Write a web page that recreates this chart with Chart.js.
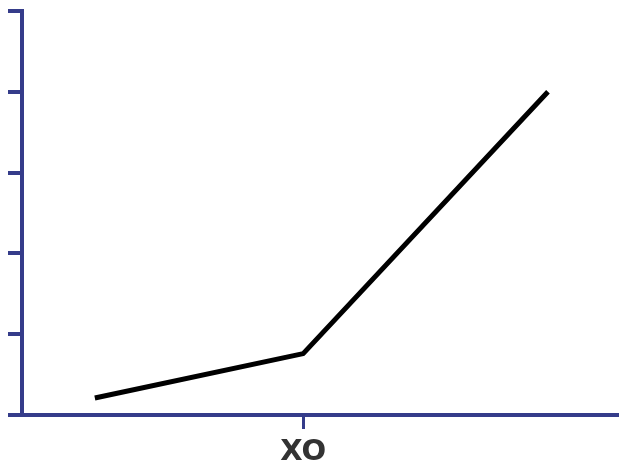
<!DOCTYPE html>
<html>
<head>
<meta charset="utf-8">
<script src="https://cdn.jsdelivr.net/npm/chart.js@4/dist/chart.umd.min.js"></script>
<style>
  html, body { margin: 0; padding: 0; background: #fff; }
  canvas { display: block; }
</style>
</head>
<body>
<canvas id="chart" width="619" height="470"></canvas>
<script>
// data
const xValues = [1.22, 4.71, 8.81];
const yValues = [0.21, 0.76, 4.0];
const xTickValues = [4.71];
const xTickLabels = ['XO'];

const axisColor = '#353c8a';

let points = [];
for (let i = 0; i < xValues.length; i++) {
  points.push({x: xValues[i], y: yValues[i]});
}

let ctx = document.getElementById('chart');
let lineChart = new Chart(ctx, {
  type: 'line',
  data: {
    datasets: [{
      data: points,
      borderColor: '#000',
      borderWidth: 5,
      borderJoinStyle: 'round',
      pointRadius: 0,
      tension: 0,
      fill: false
    }]
  },
  options: {
    responsive: false,
    animation: false,
    layout: { padding: { left: 8, top: 11, right: 0, bottom: -6 } },
    plugins: { legend: { display: false }, tooltip: { enabled: false } },
    scales: {
      x: {
        type: 'linear',
        min: 0,
        max: 10,
        afterBuildTicks: function(scale) {
          scale.ticks = xTickValues.map(v => ({value: v}));
        },
        ticks: {
          autoSkip: false,
          maxRotation: 0,
          padding: 9,
          color: '#333',
          font: { family: 'DejaVu Sans', size: 29, weight: 'bold', lineHeight: 1 },
          callback: function(value, index) { return xTickLabels[index]; }
        },
        grid: { drawOnChartArea: false, color: axisColor, lineWidth: 3, tickLength: 14 },
        border: { color: axisColor, width: 4 }
      },
      y: {
        min: 0,
        max: 5,
        ticks: { display: false, stepSize: 1 },
        grid: { drawOnChartArea: false, color: axisColor, lineWidth: 4, tickLength: 14 },
        border: { color: axisColor, width: 4 }
      }
    }
  }
});
</script>
</body>
</html>
